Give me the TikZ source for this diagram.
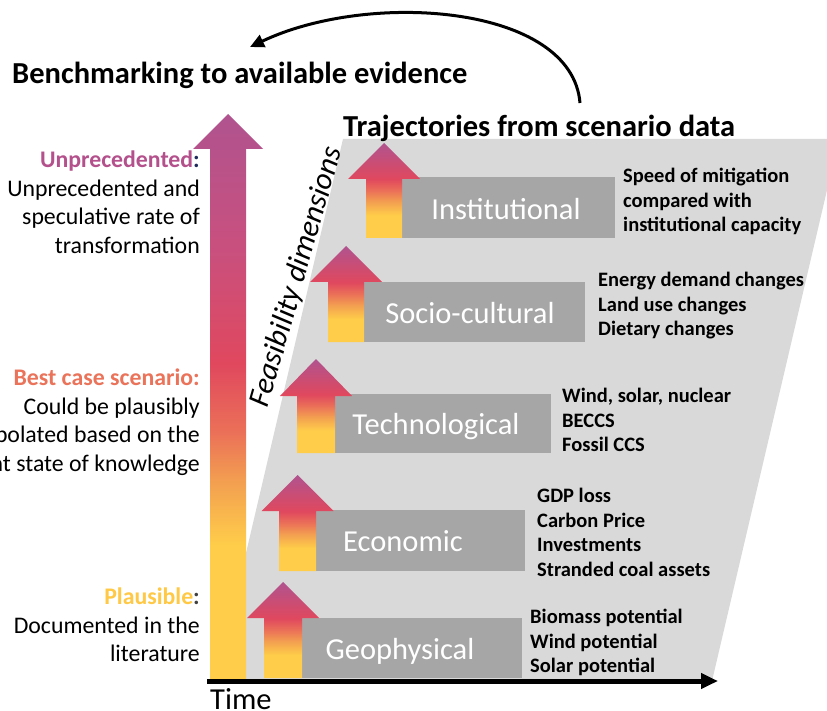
\documentclass[tikz,border=0pt]{standalone}
\usepackage{fontspec}
\setmainfont{Carlito}
\usetikzlibrary{arrows.meta}
\definecolor{lgray}{HTML}{D9D9D9}
\definecolor{dgray}{HTML}{A6A6A6}
\definecolor{cpurple}{HTML}{B0538F}
\definecolor{cmag}{HTML}{C9507E}
\definecolor{cred}{HTML}{E0485E}
\definecolor{ccoral}{HTML}{EB7058}
\definecolor{corange}{HTML}{F3A050}
\definecolor{cyellow}{HTML}{FFCD4A}
\definecolor{navy}{HTML}{1F2A5C}
\definecolor{tcoral}{HTML}{EA735A}
\definecolor{tyellow}{HTML}{FFC845}
\definecolor{tpurple}{HTML}{B4508C}
\pgfdeclareverticalshading{bigshade}{100bp}{color(0bp)=(cyellow); color(37bp)=(cyellow); color(42.5bp)=(corange); color(47bp)=(ccoral); color(53bp)=(cred); color(63bp)=(cmag); color(75bp)=(cpurple); color(100bp)=(cpurple)}
\pgfdeclareverticalshading{smallshade}{100bp}{color(0bp)=(cyellow); color(37bp)=(cyellow); color(44bp)=(corange); color(50bp)=(ccoral); color(56bp)=(cred); color(75bp)=(cpurple); color(100bp)=(cpurple)}
\newcommand\featarrow[5]{%
  \shade[shading=smallshade] (#1,#5) -- (#1,#4) -- ({(#1+#2)/2-36},#4) -- ({(#1+#2)/2},#3) -- ({(#1+#2)/2+36},#4) -- (#2,#4) -- (#2,#5) -- cycle;}
\tikzset{
  dbox/.style={fill=dgray, inner sep=0pt, anchor=north west},
  boxlabel/.style={text=white, inner sep=0pt, font=\fontsize{30.5}{30.5}\selectfont},
  rtext/.style={inner sep=0pt, anchor=north west, align=left, font=\bfseries\fontsize{20.5}{24.6}\selectfont},
  ltext/.style={inner sep=0pt, anchor=north east, align=right, font=\fontsize{23.8}{28.4}\selectfont},
}
\begin{document}
\begin{tikzpicture}[x=1pt,y=-1pt]
\useasboundingbox (0,0) rectangle (827,711);
\clip (0,0) rectangle (827,711);
% light grey parallelogram
\fill[lgray] (343,139) -- (839,139) -- (712,681) -- (216,681) -- cycle;
% big arrow
\shade[shading=bigshade] (210,681) -- (210,149) -- (193,149) -- (228,114) -- (263,149) -- (246,149) -- (246,681) -- cycle;
% boxes
\node[dbox, minimum width=213pt, minimum height=61pt] (instb) at (402,177) {};
\node[dbox, minimum width=221pt, minimum height=60pt] (socb) at (364,282) {};
\node[dbox, minimum width=216pt, minimum height=59pt] (techb) at (335,394) {};
\node[dbox, minimum width=209pt, minimum height=61pt] (econb) at (316,510) {};
\node[dbox, minimum width=220pt, minimum height=60pt] (geob) at (302,618) {};
% small arrows
\featarrow{366}{402}{143}{179}{238}
\featarrow{328}{364}{246}{282}{342}
\featarrow{297}{335}{359}{396}{453}
\featarrow{279}{316}{475}{511}{571}
\featarrow{264}{302}{582}{618}{678}
% box labels
\node[boxlabel] (instl) at (506,209) {Institutional};
\node[boxlabel] (socl) at (470,313) {Socio-cultural};
\node[boxlabel] (techl) at (436,427) {Technological};
\node[boxlabel] (econl) at (403,541) {Economic};
\node[boxlabel] (geol) at (400,651) {Geophysical};
% right texts
\node[rtext] (instt) at (623,168) {Speed of mitigation\\compared with\\institutional capacity};
\node[rtext] (soct) at (598,272) {Energy demand changes\\Land use changes\\Dietary changes};
\node[rtext] (techt) at (562,388) {Wind, solar, nuclear\\BECCS\\Fossil CCS};
\node[rtext] (econt) at (537,488) {GDP loss\\Carbon Price\\Investments\\Stranded coal assets};
\node[rtext] (geot) at (530,609) {Biomass potential\\Wind potential\\Solar potential};
% left texts
\node[ltext] (unp) at (200,151) {\textbf{\textcolor{tpurple}{Unprecedented}\textcolor{navy}{:}}\\Unprecedented and\\speculative rate of\\transformation};
\node[ltext] (best) at (200,369) {\textbf{\textcolor{tcoral}{Best case scenario:}}\\Could be plausibly\\extrapolated based on the\\current state of knowledge};
\node[ltext] (plaus) at (200,588) {\textbf{\textcolor{tyellow}{Plausible}\textcolor{black!75}{:}}\\Documented in the\\literature};
% titles
\node[inner sep=0pt, anchor=west, font=\bfseries\fontsize{30.5}{30.5}\selectfont] (bench) at (12,75) {Benchmarking to available evidence};
\node[inner sep=0pt, anchor=west, font=\bfseries\fontsize{30.5}{30.5}\selectfont] (traj) at (343,128) {Trajectories from scenario data};
\node[inner sep=0pt, rotate=74, font=\itshape\fontsize{30.5}{30.5}\selectfont] (feas) at (297,277) {Feasibility dimensions};
% time axis
\coordinate (ax0) at (207,681);
\coordinate (ax1) at (718,681);
\draw[line width=5pt, -{Triangle[length=17pt,width=15pt]}] (ax0) -- (ax1);
\node[inner sep=0pt, anchor=base west, font=\fontsize{30.5}{30.5}\selectfont] (time) at (210,709) {Time};
% curved arrow
\coordinate (cs) at (580,103);
\coordinate (ce) at (250,47);
\draw[line width=3pt, -{Triangle[length=14pt,width=13pt]}] (cs) .. controls (572,5) and (370,-10) .. (ce);
\end{tikzpicture}
\end{document}
